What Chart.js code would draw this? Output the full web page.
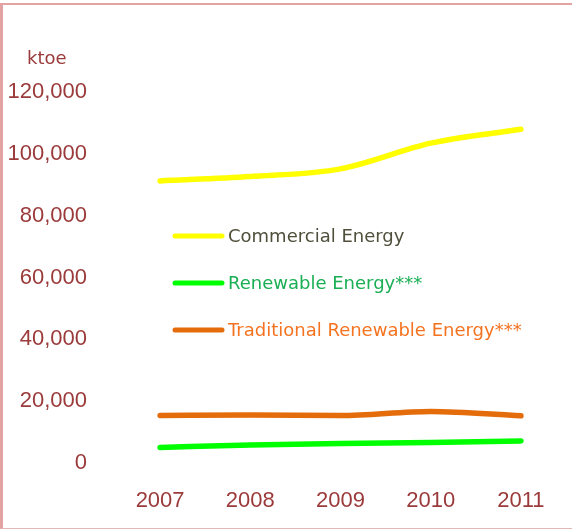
<!DOCTYPE html>
<html>
<head>
<meta charset="utf-8">
<script src="https://cdn.jsdelivr.net/npm/chart.js@4"></script>
<style>
    html, body { margin: 0; padding: 0; background: #fff; }
    #wrap { position: relative; width: 572px; height: 530px; }
    #frame {
        position: absolute; left: 0; top: 3px; width: 572px; height: 526px;
        box-sizing: border-box;
        border-left: 3px solid #e3a3a3;
        border-top: 2px solid #e3a3a3;
        border-bottom: 1px solid #e0b8b8;
        pointer-events: none;
    }
</style>
</head>
<body>
<div id="wrap">
    <canvas id="chart" width="572" height="530"></canvas>
    <div id="frame"></div>
</div>
<script>
const years = ['2007', '2008', '2009', '2010', '2011'];
const commercialEnergy = [90600, 92000, 94500, 102800, 107300];
const renewableEnergy = [4400, 5200, 5700, 6000, 6500];
const traditionalRenewable = [14700, 14900, 14700, 16000, 14600];
const yTicks = [0, 20000, 40000, 60000, 80000, 100000, 120000];

const seriesNames = ['Commercial Energy', 'Renewable Energy***', 'Traditional Renewable Energy***'];
const lineColors = ['#ffff00', '#00ff00', '#e46c0a'];
const textColors = ['#4f4f3b', '#1aaf54', '#f47320'];
const axisColor = '#9b3a3a';

// legend drawn inside the plot, left side, and the unit label on top
const legendPlugin = {
    id: 'insideLegend',
    afterDraw(chart) {
        const ctx = chart.ctx;
        const area = chart.chartArea;
        ctx.save();
        ctx.font = '18px "DejaVu Sans"';
        ctx.textBaseline = 'middle';
        ctx.fillStyle = axisColor;
        ctx.fillText('ktoe', 27, 59);
        chart.data.datasets.forEach((ds, i) => {
            const y = 236 + i * 47;
            const x0 = area.left + 60;
            ctx.strokeStyle = ds.borderColor;
            ctx.lineWidth = 5;
            ctx.lineCap = 'round';
            ctx.beginPath();
            ctx.moveTo(x0, y);
            ctx.lineTo(x0 + 47, y);
            ctx.stroke();
            ctx.fillStyle = textColors[i];
            ctx.fillText(ds.label, x0 + 53, y + 1);
        });
        ctx.restore();
    }
};

const ctx = document.getElementById('chart').getContext('2d');
new Chart(ctx, {
    type: 'line',
    data: {
        labels: years,
        datasets: [commercialEnergy, renewableEnergy, traditionalRenewable].map((vals, i) => ({
            label: seriesNames[i],
            data: vals,
            borderColor: lineColors[i],
            backgroundColor: lineColors[i],
            borderWidth: 5.5,
            pointRadius: 0,
            cubicInterpolationMode: 'monotone',
            borderCapStyle: 'round',
            fill: false
        }))
    },
    options: {
        responsive: false,
        animation: false,
        layout: { padding: { top: 90, right: 4, bottom: 18, left: 0 } },
        plugins: {
            legend: { display: false },
            tooltip: { enabled: false }
        },
        scales: {
            x: {
                offset: true,
                grid: { display: false, drawTicks: false },
                border: { display: false },
                ticks: {
                    color: axisColor,
                    padding: 27,
                    font: { family: 'Liberation Sans', size: 22 }
                },
                afterFit(scale) { scale.height = 51; }
            },
            y: {
                min: 0,
                max: 120000,
                grid: { display: false, drawTicks: false },
                border: { display: false },
                afterBuildTicks(scale) { scale.ticks = yTicks.map(v => ({ value: v })); },
                ticks: {
                    color: axisColor,
                    padding: 28,
                    labelOffset: 2,
                    font: { family: 'Liberation Sans', size: 22 },
                    callback: v => v.toLocaleString('en-US')
                },
                afterFit(scale) { scale.width = 115; }
            }
        }
    },
    plugins: [legendPlugin]
});
</script>
</body>
</html>
